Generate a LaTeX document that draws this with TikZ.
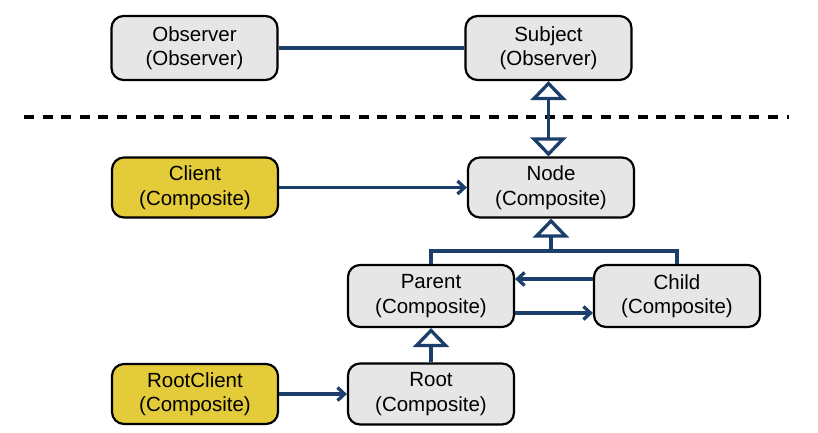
\documentclass[tikz,border=0pt]{standalone}
\usepackage{fontspec}
\setmainfont{Liberation Sans}
\usetikzlibrary{arrows.meta}
\definecolor{boxgray}{HTML}{E6E6E6}
\definecolor{boxyellow}{HTML}{E3CB3A}
\definecolor{navy}{HTML}{1B3F6A}
\tikzset{
  cls/.style={draw=black, line width=2.2pt, rounded corners=12pt, fill=boxgray,
    minimum width=166pt, align=center, font=\fontsize{20.5}{24.5}\selectfont, inner sep=0pt},
  client/.style={cls, fill=boxyellow},
  conn/.style={draw=navy, line width=3.3pt},
  assoc/.style={conn, -{Straight Barb[length=7pt,width=13pt,line width=3.3pt]}},
  inherit/.style={conn, -{Triangle[open,fill=white,length=19pt,width=36pt,line width=3.3pt]}},
  sep/.style={draw=black, line width=3.2pt, dash pattern=on 10pt off 8.6pt}
}
\begin{document}
\begin{tikzpicture}[x=1pt,y=-1pt]
\useasboundingbox (0,0) rectangle (818,432);
\node[cls, minimum height=64pt] (observer) at (194.5,48) {Observer\\(Observer)};
\node[cls, minimum height=64pt] (subject) at (548.5,48) {Subject\\(Observer)};
\node[client, minimum height=60pt] (client) at (195,187.5) {Client\\(Composite)};
\node[cls, minimum height=60pt] (node) at (551,187.5) {Node\\(Composite)};
\node[cls, minimum height=62pt] (parent) at (431,296) {Parent\\(Composite)};
\node[cls, minimum height=62pt] (child) at (677,296) {Child\\(Composite)};
\node[client, minimum height=60pt] (rootclient) at (195,394) {RootClient\\(Composite)};
\node[cls, minimum height=61pt] (root) at (431,394) {Root\\(Composite)};
\coordinate (sepL) at (24,117);
\coordinate (sepR) at (789,117);
\coordinate (mid) at (548.5,117);
\coordinate (junction) at (551,251);
% separator
\draw[sep] (sepL) -- (sepR);
% observer association
\draw[conn] (observer.east) -- (subject.west);
% subject <-> node inheritance (both ends open triangles)
\draw[inherit] (mid) -- (subject.south);
\draw[inherit] (mid) -- (subject.south |- node.north);
% client -> node
\draw[assoc] (client.east) -- (node.west);
% parent/child inherit from node
\draw[conn] (parent.north) |- (junction) -| (child.north);
\draw[inherit] (junction) -- (node.south);
% parent <-> child associations
\draw[assoc] ([yshift=17pt]child.west) -- ([yshift=17pt]parent.east);
\draw[assoc] ([yshift=-17pt]parent.east) -- ([yshift=-17pt]child.west);
% root inherits parent
\draw[inherit] (root.north) -- (parent.south);
% rootclient -> root
\draw[assoc] (rootclient.east) -- (root.west);
\end{tikzpicture}
\end{document}
